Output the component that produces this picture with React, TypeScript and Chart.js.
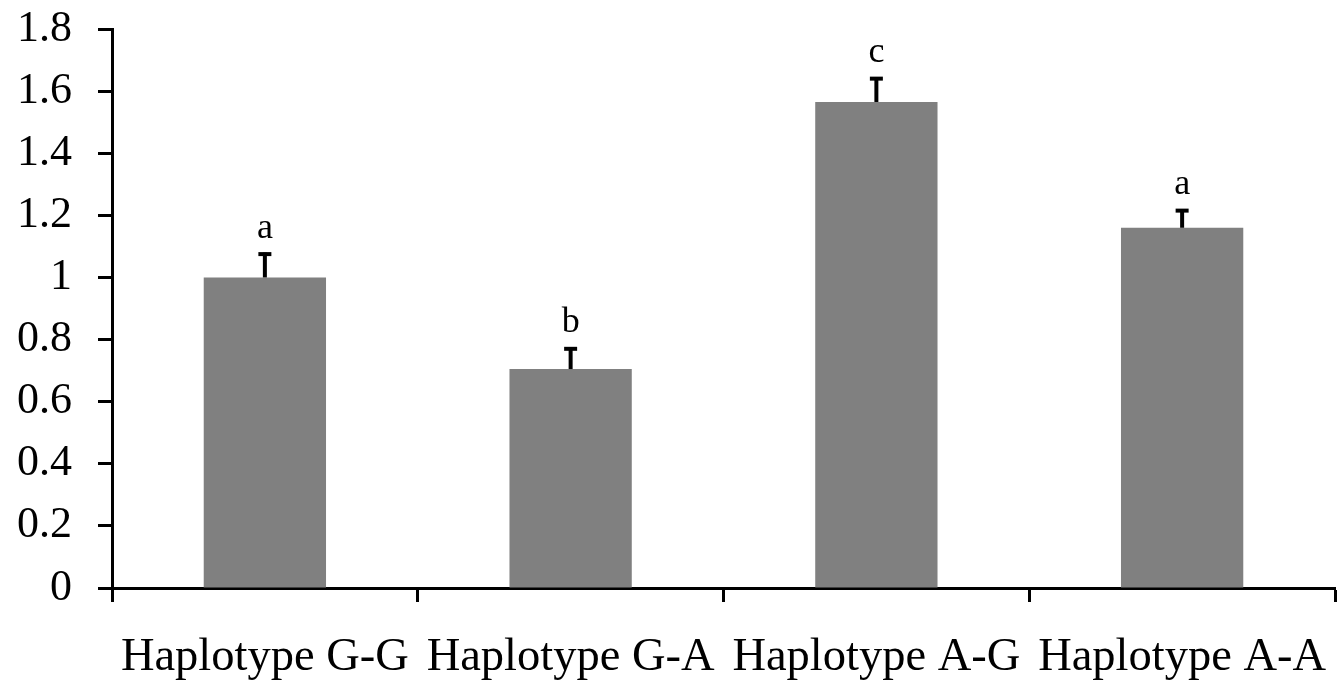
import React, { useEffect, useRef } from "react";
import { Chart, registerables } from "chart.js";

Chart.register(...registerables);

const categories = ["Haplotype G-G", "Haplotype G-A", "Haplotype A-G", "Haplotype A-A"];
const means = [1.0, 0.705, 1.565, 1.16];
const errors = [0.08, 0.07, 0.08, 0.06];
const letters = ["a", "b", "c", "a"];
const yTicks = [0, 0.2, 0.4, 0.6, 0.8, 1, 1.2, 1.4, 1.6, 1.8];

const serif = "'Liberation Serif', 'Times New Roman', serif";

const errorPlugin = {
  id: "errorBars",
  afterDatasetsDraw(chart: any) {
    const { ctx, scales } = chart;
    const meta = chart.getDatasetMeta(0);
    const y = scales.y;
    ctx.save();
    meta.data.forEach((bar: any, i: number) => {
      const x = bar.x;
      const yTop = y.getPixelForValue(means[i] + errors[i]);
      const yBase = y.getPixelForValue(means[i]);
      ctx.strokeStyle = "#000";
      ctx.lineWidth = 4;
      ctx.beginPath();
      ctx.moveTo(x, yBase);
      ctx.lineTo(x, yTop);
      ctx.stroke();
      ctx.beginPath();
      ctx.moveTo(x - 6.5, yTop + 1.5);
      ctx.lineTo(x + 6.5, yTop + 1.5);
      ctx.stroke();
      ctx.fillStyle = "#000";
      ctx.font = `36px ${serif}`;
      ctx.textAlign = "center";
      ctx.textBaseline = "alphabetic";
      ctx.fillText(letters[i], x, yTop - 15);
    });
    ctx.restore();
  },
};

export default function App() {
  const ref = useRef<HTMLCanvasElement>(null);
  useEffect(() => {
    document.body.style.margin = "0";
    const chart = new Chart(ref.current!, {
      type: "bar",
      data: {
        labels: categories,
        datasets: [
          {
            data: means,
            backgroundColor: "#808080",
            borderWidth: 0,
            barPercentage: 0.4,
            categoryPercentage: 1,
          },
        ],
      },
      options: {
        animation: false,
        responsive: false,
        maintainAspectRatio: false,
        layout: { padding: { top: 29, right: 4, left: 0, bottom: 0 } },
        plugins: { legend: { display: false }, tooltip: { enabled: false } },
        scales: {
          x: {
            offset: true,
            grid: {
              offset: true,
              drawOnChartArea: false,
              drawTicks: true,
              tickLength: 14,
              tickWidth: 3,
              tickColor: "#000",
            },
            border: { display: true, color: "#000", width: 3 },
            ticks: {
              color: "#000",
              font: { family: serif, size: 46.5 },
              padding: 28,
              maxRotation: 0,
              autoSkip: false,
            },
            afterFit(scale: any) {
              scale.height = 95;
              scale.paddingLeft = 0;
              scale.paddingRight = 0;
            },
          },
          y: {
            min: 0,
            max: 1.8,
            afterBuildTicks(scale: any) {
              scale.ticks = yTicks.map((v) => ({ value: v }));
            },
            grid: {
              drawOnChartArea: false,
              drawTicks: true,
              tickLength: 14,
              tickWidth: 3,
              tickColor: "#000",
            },
            border: { display: true, color: "#000", width: 3 },
            ticks: {
              color: "#000",
              font: { family: serif, size: 44 },
              padding: 26,
              callback: (v: any) => String(Number(Number(v).toFixed(1))),
            },
            afterFit(scale: any) {
              scale.width = 112;
              scale.paddingTop = 0;
              scale.paddingBottom = 0;
            },
          },
        },
      },
      plugins: [errorPlugin],
    });
    return () => chart.destroy();
  }, []);
  return (
    <div style={{ position: "fixed", left: 0, top: 0, width: 1339, height: 683 }}>
      <canvas ref={ref} width={1339} height={683} />
    </div>
  );
}
